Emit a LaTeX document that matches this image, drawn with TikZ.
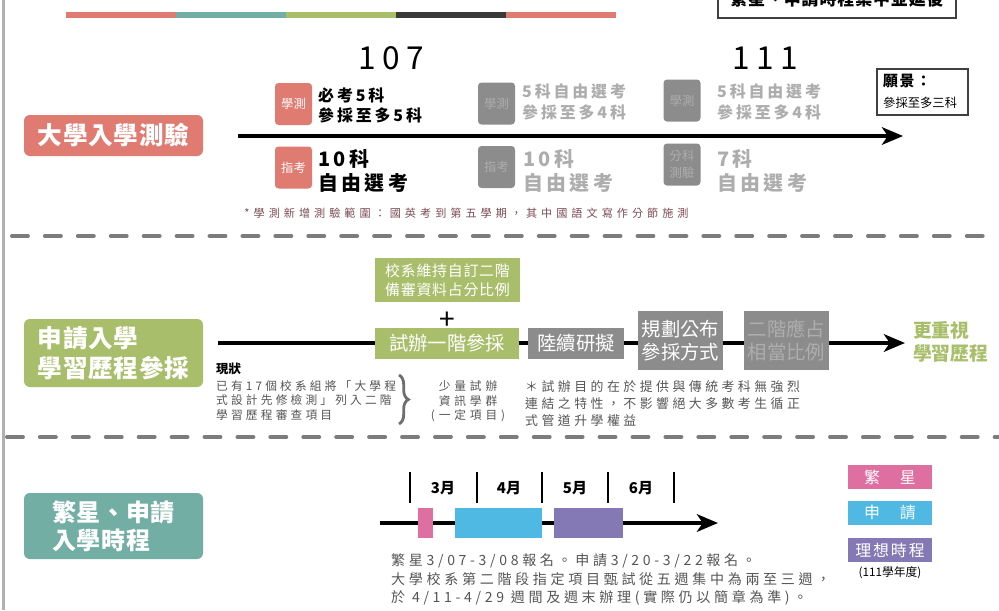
\documentclass[tikz,border=0pt]{standalone}
\usepackage{fontspec}
\setmainfont{Noto Sans CJK TC}
\usetikzlibrary{arrows.meta,positioning,calc,decorations.pathreplacing}
\definecolor{cSalmon}{HTML}{E07B72}
\definecolor{cTeal}{HTML}{72AEA4}
\definecolor{cGreen}{HTML}{A8BE6A}
\definecolor{cDark}{HTML}{3A3A3A}
\definecolor{cGray}{HTML}{8C8C8C}
\definecolor{cLight}{HTML}{ADADAD}
\definecolor{cSep}{HTML}{7C7C7C}
\definecolor{cLeft}{HTML}{B0B0B0}
\definecolor{cNote}{HTML}{7A4A55}
\definecolor{cText}{HTML}{555555}
\definecolor{cPink}{HTML}{DE6FA0}
\definecolor{cBlue}{HTML}{4FB9E3}
\definecolor{cPurple}{HTML}{8479B4}
\newcommand{\fsz}[2]{\fontsize{#1}{#2}\selectfont}
\newcommand{\track}[1]{\addfontfeature{LetterSpace=#1}}

\begin{document}
\begin{tikzpicture}[x=0.03cm,y=-0.03cm,every node/.style={inner sep=0pt},
  size/.style 2 args={minimum width=#1*0.03cm,minimum height=#2*0.03cm},
  label1/.style={rounded corners=5pt,text=white,font=\bfseries\fsz{21pt}{25.5pt}\track{3},align=left},
  tag/.style={size={37}{42},rounded corners=3pt,text=white,font=\fsz{10.5pt}{14pt},align=center},
  gbox/.style={text=white,font=\fsz{16.5pt}{19.5pt},align=center},
  choice/.style={anchor=west,align=left,font=\bfseries\fsz{13.6pt}{17.5pt}\track{18}},
  bigchoice/.style={anchor=west,align=left,font=\bfseries\fsz{17pt}{20.5pt}\track{17}},
  timeline/.style={line width=3pt,-{Stealth[length=18pt,width=15pt,inset=5pt]}},
  sepline/.style={cSep,line width=3.4pt,line cap=round,dash pattern=on 13.6pt off 14.5pt},
  body/.style={text=cText,anchor=west,align=left,font=\fsz{10pt}{12.5pt}\track{27}},
  bar/.style={size={#1}{30}},
  legend/.style={size={84}{24},text=white,font=\fsz{13.6pt}{15pt}\track{12}}]
  \useasboundingbox (0,0) rectangle (999,610);

  % frame and colour strip
  \draw[cLeft,line width=1.8pt] (3.5,0) -- (3.5,610);
  \foreach \c [count=\i from 0] in {cSalmon,cTeal,cGreen,cDark,cSalmon}
    \fill[\c] (66+110*\i,12) rectangle (176+110*\i,18);
  \node[draw=black!75,line width=0.9pt,size={238}{38},font=\bfseries\fsz{14.5pt}{16pt}\track{5}] (delay) at (837,-1) {繁星、申請時程集中並延後};

  % exams
  \node[label1,fill=cSalmon,size={179}{41}] (exam) at (113.5,135.5) {大學入學測驗};
  \node[font=\fsz{27pt}{30pt}\track{20}] (y107) at (391,58) {107};
  \node[font=\fsz{27pt}{30pt}\track{20}] (y111) at (765,58) {111};
  \coordinate (a1s) at (238,136);
  \coordinate (a1e) at (903,136);
  \draw[timeline] (a1s) -- (a1e);

  \node[tag,fill=cSalmon] (gsat) at (293.5,104) {學測};
  \node[choice] (gsatt) at (318,105.5) {必考5科\\參採至多5科};
  \node[tag,fill=cSalmon] (ast) at (293.5,167.5) {指考};
  \node[bigchoice] (astt) at (318,171) {10科\\自由選考};

  \node[tag,fill=cGray,text=cLight] (gsat2) at (496.5,103.5) {學測};
  \node[choice,text=cLight] (gsat2t) at (522,102) {5科自由選考\\參採至多4科};
  \node[tag,fill=cGray,text=cLight] (ast2) at (496.5,167) {指考};
  \node[bigchoice,text=cLight] (ast2t) at (523,170.5) {10科\\自由選考};

  \node[tag,fill=cGray,text=cLight] (gsat3) at (682,100.5) {學測};
  \node[choice,text=cLight] (gsat3t) at (717,102) {5科自由選考\\參採至多4科};
  \node[tag,fill=cGray,text=cLight] (sub3) at (682,164.5) {分科\\測驗};
  \node[bigchoice,text=cLight] (sub3t) at (717,170.5) {7科\\自由選考};

  \node[draw=black!75,line width=0.9pt,size={91}{46}] (vision) at (922.5,92) {};
  \node[anchor=west,font=\bfseries\fsz{12.75pt}{14pt}\track{10}] (visiont) at (883,81) {願景：};
  \node[anchor=west,font=\fsz{10.5pt}{12pt}] (visions) at (883,103) {參採至多三科};

  \node[text=cNote,font=\fsz{9.5pt}{11pt}\track{36}] (note1) at (466.5,213) {*學測新增測驗範圍：國英考到第五學期，其中國語文寫作分節施測};

  \draw[sepline] (12,236) -- (999,236);

  % portfolio
  \node[label1,fill=cGreen,size={179}{68}] (apply) at (113.5,353) {申請入學\\學習歷程參採};
  \node[gbox,fill=cGreen,size={145}{44},font=\fsz{12.75pt}{16pt}\track{5}] (keep) at (447.5,280) {校系維持自訂二階\\備審資料占分比例};
  \node[font=\fsz{24pt}{24pt}] (plus) [below=8pt of keep] {+};
  \node[gbox,fill=cGreen,size={144}{31}] (trial) at (447,343.5) {試辦一階參採};
  \node[gbox,fill=cGray,size={96}{31}] (study) at (576,343.5) {陸續研擬};
  \node[gbox,fill=cGray,size={85}{59}] (plan) at (680.5,340.5) {規劃公布\\參採方式};
  \node[gbox,fill=cGray,text=cLight,size={85}{59}] (ratio) at (786.5,340.5) {二階應占\\相當比例};
  \node[anchor=west,align=left,text=cGreen,font=\bfseries\fsz{16pt}{19.5pt}] (more) at (913,341.5) {更重視\\學習歷程};
  \coordinate (l2s) at (218,343);
  \coordinate (l2e) at (905,343);
  \draw[line width=3.6pt] (l2s) -- (l2s -| trial.west);
  \draw[line width=3.6pt] (trial.east |- l2s) -- (study.west |- l2s);
  \draw[line width=3.6pt] (study.east |- l2s) -- (plan.west |- l2s);
  \draw[line width=3.6pt] (plan.east |- l2s) -- (ratio.west |- l2s);
  \draw[timeline,line width=3.6pt] (ratio.east |- l2s) -- (l2e);

  \node[anchor=west,font=\bfseries\fsz{10.5pt}{12pt}] (now) at (216,369) {現狀};
  \node[body] (nowt) at (216,400.5) {已有17個校系組將「大學程\\式設計先修檢測」列入二階\\學習歷程審查項目};
  \draw[cText!85,line width=2.4pt,decorate,decoration={brace,amplitude=8pt}] (399,375) -- (399,424);
  \node[body,anchor=center,align=center,font=\fsz{10pt}{12.5pt}\track{33}] (pilot) at (468,401.5) {少量試辦\\資訊學群\\(一定項目)};
  \node[body,font=\fsz{11pt}{14.5pt}\track{27}] (aim) at (525,404) {＊試辦目的在於提供與傳統考科無強烈\\連結之特性，不影響絕大多數考生循正\\式管道升學權益};

  \draw[sepline] (7,437) -- (999,437);

  % schedule
  \node[label1,fill=cTeal,size={179}{66},font=\bfseries\fsz{20.5pt}{24pt}\track{3}] (sched) at (113.5,526) {繁星、申請\\入學時程};
  \foreach \x in {410,477,542,608,674}
    \draw[line width=1pt] (\x,472) -- (\x,503);
  \foreach \m/\x in {3/443,4/509,5/575,6/641}
    \node[font=\bfseries\fsz{12.75pt}{14pt}] (m\m) at (\x,488) {\m{}月};
  \coordinate (l3s) at (380,523);
  \coordinate (l3e) at (718,523);
  \draw[timeline,line width=3.6pt] (l3s) -- (l3e);
  \node[bar=15,fill=cPink] (barstar) at (425.5,523) {};
  \node[bar=87,fill=cBlue] (barapp) at (498.5,523) {};
  \node[bar=69,fill=cPurple] (barideal) at (588.5,523) {};
  \node[body,font=\fsz{12pt}{15.7pt}\track{26}] (dates) at (391,579.5) {繁星3/07-3/08報名。申請3/20-3/22報名。\\大學校系第二階段指定項目甄試從五週集中為兩至三週，\\於 4/11-4/29 週間及週末辦理(實際仍以簡章為準)。};

  \node[legend,fill=cPink] (lgstar) at (890,477) {繁　星};
  \node[legend,fill=cBlue] (lgapp) at (890,513) {申　請};
  \node[legend,fill=cPurple] (lgideal) at (890,550) {理想時程};
  \node[font=\fsz{10pt}{12pt}] (lgyear) at (890,573) {(111學年度)};
\end{tikzpicture}
\end{document}
